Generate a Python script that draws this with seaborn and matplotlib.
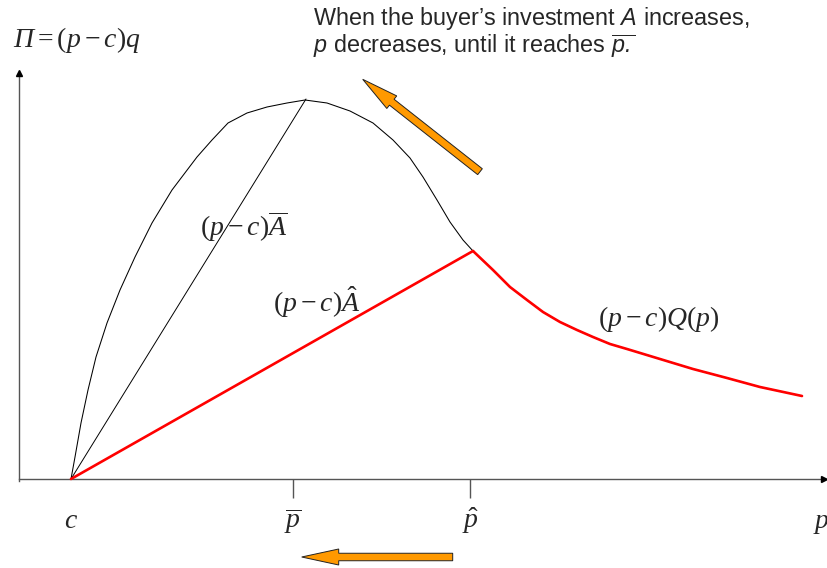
import matplotlib
matplotlib.use("Agg")
import matplotlib.pyplot as plt
import seaborn as sns
import numpy as np

# ---- data (price p, profit (p-c)Q(p)) ----
price = [0.71, 0.75, 0.81, 0.88, 0.96, 1.07, 1.20, 1.35, 1.52, 1.72, 1.97, 2.12,
         2.28, 2.47, 2.67, 2.87, 3.05, 3.27, 3.50, 3.73, 3.93, 4.10, 4.23, 4.37,
         4.50, 4.63, 4.73, 4.93, 5.10, 5.27, 5.43, 5.60, 5.77, 5.93, 6.10, 6.27,
         6.60, 6.93, 7.27, 7.60, 8.02]
profit = [0.00, 0.22, 0.56, 0.89, 1.22, 1.56, 1.89, 2.22, 2.56, 2.89, 3.22, 3.39,
          3.56, 3.66, 3.72, 3.76, 3.79, 3.76, 3.68, 3.56, 3.39, 3.21, 3.02, 2.79,
          2.57, 2.39, 2.28, 2.09, 1.92, 1.79, 1.67, 1.57, 1.49, 1.42, 1.35, 1.30,
          1.20, 1.10, 1.01, 0.92, 0.83]

c_val = 0.71          # marginal cost c
p_bar = 2.93          # p-bar tick
p_hat = 4.70          # p-hat tick
p_axis_label = 8.21   # position of axis name "p"
chord_bar = ([0.71, 3.06], [0.00, 3.80])   # (p-c)A-bar line
chord_hat = ([0.71, 4.73], [0.00, 2.28])   # (p-c)A-hat line
kink_price = 4.73

tick_labels = [r"$c$", r"$\overline{p}$", r"$\hat{p}$", r"$p$"]
tick_positions = [c_val, p_bar, p_hat, p_axis_label]

# ---- style ----
sns.set_theme(style="white")
plt.rcParams["mathtext.fontset"] = "custom"
plt.rcParams["mathtext.rm"] = "Liberation Serif"
plt.rcParams["mathtext.it"] = "Liberation Serif:italic"
plt.rcParams["mathtext.sf"] = "Liberation Sans:italic"
plt.rcParams["font.family"] = ["Liberation Serif", "DejaVu Sans"]

fig = plt.figure(figsize=(8.28, 5.68), dpi=100)
ax = fig.add_axes([0, 0, 1, 1])
ax.set_xlim(0, 8.28)
ax.set_ylim(-0.89, 4.79)

# axes as spines through origin
axis_col = "#555555"
for s in ["top", "right"]:
    ax.spines[s].set_visible(False)
ax.spines["bottom"].set_position(("data", 0))
ax.spines["bottom"].set_bounds(0.185, 8.25)
ax.spines["left"].set_position(("data", 0.185))
ax.spines["left"].set_bounds(-0.02, 4.06)
for s in ["bottom", "left"]:
    ax.spines[s].set_color(axis_col)
    ax.spines[s].set_linewidth(1.0)
    ax.spines[s].set_visible(True)
ax.plot([8.245], [0], marker=">", color="black", ms=5, clip_on=False, zorder=5)
ax.plot([0.185], [4.06], marker="^", color="black", ms=5, clip_on=False, zorder=5)

ax.set_xticks([p_bar, p_hat])
ax.set_yticks([])
ax.tick_params(axis="x", bottom=True, direction="out", length=13.5, width=1.0,
               color=axis_col, labelbottom=False)
ax.grid(False)

# ---- curves ----
price_arr = np.array(price)
profit_arr = np.array(profit)
sns.lineplot(x=price_arr, y=profit_arr, ax=ax, color="black", linewidth=0.75,
             estimator=None, sort=False, zorder=2)
sns.lineplot(x=chord_bar[0], y=chord_bar[1], ax=ax, color="black", linewidth=0.7,
             estimator=None, sort=False, zorder=2)
mask = price_arr >= kink_price - 1e-9
sns.lineplot(x=price_arr[mask], y=profit_arr[mask], ax=ax, color="#ff0000",
             linewidth=1.9, estimator=None, sort=False, zorder=3)
sns.lineplot(x=chord_hat[0], y=chord_hat[1], ax=ax, color="#ff0000",
             linewidth=1.9, estimator=None, sort=False, zorder=3)

# ---- labels ----
fs = 20
ax.text(0.127, 4.315, r"Π$=(p-c)q$", fontsize=fs, style="italic",
        family="Liberation Serif", ha="left", va="baseline")
ax.text(2.00, 2.43, r"$(p-c)\overline{A}$", fontsize=fs, ha="left", va="baseline")
ax.text(2.73, 1.665, r"$(p-c)\hat{A}$", fontsize=fs, ha="left", va="baseline")
ax.text(5.98, 1.525, r"$(p-c)Q(p)$", fontsize=fs, ha="left", va="baseline")
for pos, lab in zip(tick_positions, tick_labels):
    ax.text(pos, -0.49, lab, fontsize=fs, ha="center", va="baseline")

# caption
cap_fs = 16.8
ax.text(3.13, 4.54, r"When the buyer’s investment $\mathsf{A}$ increases,",
        fontsize=cap_fs, family="Liberation Sans", ha="left", va="baseline")
ax.text(3.13, 4.26, r"$\mathsf{p}$ decreases, until it reaches $\overline{\mathsf{p.}}$",
        fontsize=cap_fs, family="Liberation Sans", ha="left", va="baseline")

# orange arrows
orange = "#ff9900"
ax.arrow(4.80, 3.073, -1.173, 0.924, width=0.075, head_width=0.16, head_length=0.37,
         length_includes_head=True, fc=orange, ec="#222222", lw=0.7, zorder=4)
ax.arrow(4.527, -0.78, -1.51, 0.0, width=0.075, head_width=0.16, head_length=0.37,
         length_includes_head=True, fc=orange, ec="#222222", lw=0.7, zorder=4,
         clip_on=False)

fig.savefig("out.png", dpi=100)
